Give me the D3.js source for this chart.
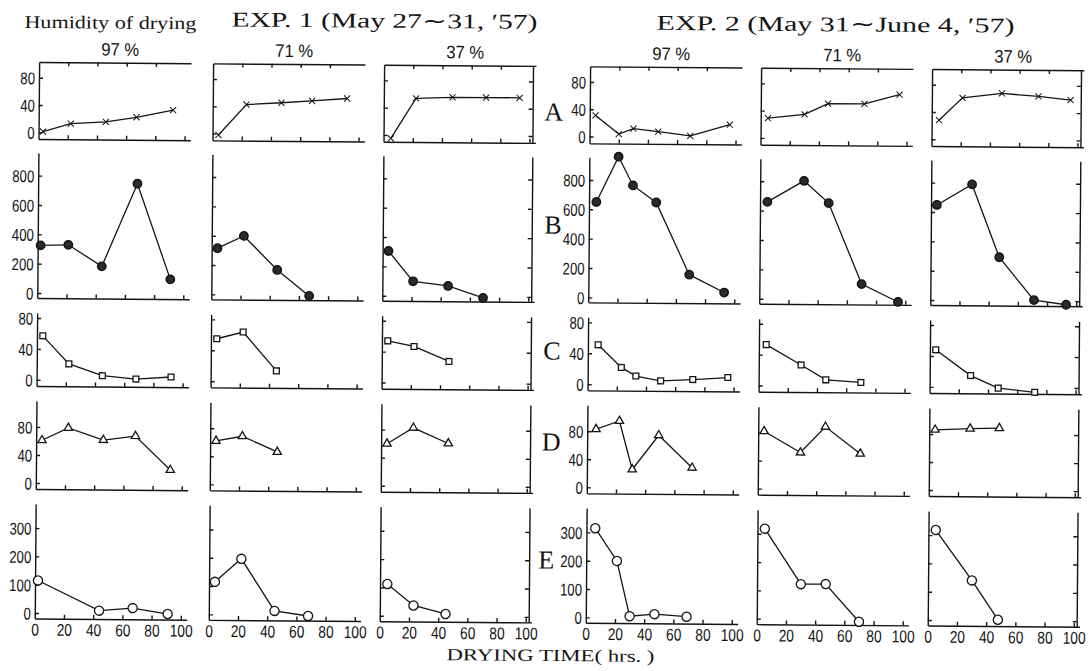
<!DOCTYPE html>
<html>
<head>
<meta charset="utf-8">
<script src="https://cdn.jsdelivr.net/npm/d3@7"></script>
<style>
  body { margin: 0; background: #fff; }
  svg { display: block; }
</style>
</head>
<body>
<script>
// ---- data: [drying hours, value] per humidity (97 %, 71 %, 37 %) ----
const humidity = ['97 %', '71 %', '37 %'];
const rowLetters = ['A', 'B', 'C', 'D', 'E'];
const xTicks = [0, 20, 40, 60, 80, 100];
const yTicks = [[0, 40, 80], [0, 200, 400, 600, 800], [0, 40, 80], [0, 40, 80], [0, 100, 200, 300]];

// EXP. 1
const A_exp1 = [
    [[3, 1], [22, 13], [46, 16], [67, 23], [92, 34]],
    [[4, -2], [23, 43], [47, 46], [68, 49], [92, 53]],
    [[5, -5], [22, 54], [47, 56], [70, 56], [93, 56]]
];
const B_exp1 = [
    [[2, 325], [21, 330], [44, 185], [68, 750], [91, 100]],
    [[4, 315], [22, 400], [45, 170], [67, -5]],
    [[4, 305], [21, 100], [45, 70], [69, -10]]
];
const C_exp1 = [
    [[4, 57], [22, 21], [45, 6], [68, 2], [92, 5]],
    [[4, 55], [22, 64], [45, 14]],
    [[4, 54], [22, 47], [46, 28]]
];
const D_exp1 = [
    [[4, 61], [22, 79], [46, 62], [68, 68], [92, 20]],
    [[4, 62], [22, 69], [46, 47]],
    [[4, 60], [22, 83], [46, 61]]
];
const E_exp1 = [
    [[2, 115], [44, 10], [67, 20], [91, 0]],
    [[4, 115], [22, 197], [45, 14], [68, -3]],
    [[5, 112], [23, 37], [45, 8]]
];

// EXP. 2
const A_exp2 = [
    [[4, 31], [20, 4], [30, 12], [47, 8], [69, 2], [96, 19]],
    [[5, 29], [30, 35], [46, 51], [71, 51], [95, 65]],
    [[5, 28], [21, 61], [48, 68], [73, 64], [95, 59]]
];
const B_exp2 = [
    [[5, 650], [20, 960], [30, 765], [46, 650], [69, 160], [93, 40]],
    [[5, 660], [30, 805], [47, 655], [70, 105], [95, -15]],
    [[4, 648], [28, 790], [47, 295], [71, 5], [93, -25]]
];
const C_exp2 = [
    [[7, 51], [23, 22], [33, 11], [50, 5], [72, 7], [96, 10]],
    [[5, 53], [29, 27], [46, 8], [70, 5]],
    [[4, 48], [28, 15], [47, -1], [72, -6]]
];
const D_exp2 = [
    [[6, 83], [22, 95], [31, 26], [49, 75], [72, 29]],
    [[4, 82], [29, 52], [46, 89], [70, 51]],
    [[4, 86], [28, 88], [48, 89]]
];
const E_exp2 = [
    [[6, 315], [21, 200], [30, 5], [47, 13], [69, 5]],
    [[5, 318], [30, 123], [47, 124], [70, -8]],
    [[5, 318], [30, 141], [48, 3]]
];

// ---- layout ----
const W = 1092, H = 671;
const tilt = 0.45;                       // the scan is slightly rotated
const colX = [37, 211, 382, 588, 759, 930];
const colW = 146;                        // pixels for 0..100 hrs
const rowBox = [
    { top: 66, bottom: 143, domain: [-10, 103] },
    { top: 157, bottom: 302, domain: [-34, 954] },
    { top: 317, bottom: 390, domain: [-8, 86.5] },
    { top: 405, bottom: 493, domain: [-8.6, 117] },
    { top: 508, bottom: 622.5, domain: [-19.4, 385] }
];
const rows = [
    { sets: [A_exp1, A_exp2], marker: 'cross' },
    { sets: [B_exp1, B_exp2], marker: 'dot' },
    { sets: [C_exp1, C_exp2], marker: 'square' },
    { sets: [D_exp1, D_exp2], marker: 'triangle' },
    { sets: [E_exp1, E_exp2], marker: 'circle' }
];

const sansFont = '"Liberation Sans", Arial, sans-serif';
const serifFont = '"Liberation Serif", "Times New Roman", serif';
const ink = '#141414';

const svg = d3.select('body').append('svg').attr('width', W).attr('height', H);
const g = svg.append('g').attr('transform', `rotate(${tilt}, ${W / 2}, ${H / 2})`);

// narrow digits like the printed figure
function squeeze(sel, perChar) {
    sel.attr('textLength', function () { return this.textContent.length * perChar; })
        .attr('lengthAdjust', 'spacingAndGlyphs');
}

function styleAxis(a) {
    a.attr('color', ink);
    a.selectAll('path, line').attr('stroke-width', 1.4);
}

const symbolFor = {
    cross: d3.symbol(d3.symbolTimes || d3.symbolCross, 26),
    square: d3.symbol(d3.symbolSquare, 34),
    triangle: d3.symbol(d3.symbolTriangle, 30),
    circle: d3.symbol(d3.symbolCircle, 66)
};

rows.forEach((row, r) => {
    const box = rowBox[r];
    const y = d3.scaleLinear().domain(box.domain).range([box.bottom, box.top]);

    row.sets.forEach((exp, e) => exp.forEach((series, h) => {
        const c = e * 3 + h;
        const x = d3.scaleLinear().domain([0, 104]).range([colX[c], colX[c] + colW * 1.04]);
        const p = g.append('g').attr('class', 'panel');

        // left axis with inward ticks
        const left = p.append('g')
            .attr('transform', `translate(${x(0)},0)`)
            .call(d3.axisRight(y).tickValues(yTicks[r]).tickSize(4).tickSizeOuter(0).tickFormat(''));
        styleAxis(left);

        // bottom axis with inward ticks
        const bottom = p.append('g')
            .attr('transform', `translate(0,${box.bottom})`)
            .call(d3.axisTop(x).tickValues(xTicks.slice(1)).tickSize(4).tickSizeOuter(0).tickFormat(''));
        styleAxis(bottom);

        // top frame on the first row
        if (r === 0) {
            const top = p.append('g')
                .attr('transform', `translate(0,${box.top})`)
                .call(d3.axisBottom(x).tickValues(xTicks.slice(1, -1)).tickSize(4).tickSizeOuter(0).tickFormat(''));
            styleAxis(top);
        }

        // right frame on the 37 % column
        if (h === 2) {
            const right = p.append('g')
                .attr('transform', `translate(${x(102)},0)`)
                .call(d3.axisLeft(y).tickValues(yTicks[r]).tickSize(4).tickSizeOuter(0).tickFormat(''));
            styleAxis(right);
        }

        // y labels on the first column of each experiment
        if (h === 0) {
            const lab = p.append('g')
                .attr('transform', `translate(${x(0)},0)`)
                .call(d3.axisLeft(y).tickValues(yTicks[r]).tickSize(0).tickPadding(4));
            lab.select('.domain').remove();
            lab.attr('color', ink).attr('font-family', sansFont).attr('font-size', 17);
            lab.selectAll('text').attr('dy', '0.36em').call(squeeze, 7.3);
        }

        // x labels on the last row
        if (r === rows.length - 1) {
            const lab = p.append('g')
                .attr('transform', `translate(0,${box.bottom})`)
                .call(d3.axisBottom(x).tickValues(xTicks).tickSize(0).tickPadding(5));
            lab.select('.domain').remove();
            lab.attr('color', ink).attr('font-family', sansFont).attr('font-size', 17);
            lab.selectAll('text').call(squeeze, 7.6);
        }

        // series line
        p.append('path')
            .datum(series)
            .attr('fill', 'none')
            .attr('stroke', ink)
            .attr('stroke-width', 1.3)
            .attr('d', d3.line().x(d => x(d[0])).y(d => y(d[1])));

        // markers
        const pts = p.selectAll('.pt').data(series).join('g')
            .attr('class', 'pt')
            .attr('transform', d => `translate(${x(d[0])},${y(d[1])})`);
        if (row.marker === 'dot') {
            pts.append('circle').attr('r', 4.2)
                .attr('fill', '#2a2a2a').attr('stroke', ink).attr('stroke-width', 1.4);
        } else {
            pts.append('path').attr('d', symbolFor[row.marker])
                .attr('fill', row.marker === 'cross' ? 'none' : '#fff')
                .attr('stroke', ink)
                .attr('stroke-width', row.marker === 'cross' ? 1 : 1.3);
        }
    }));
});

// humidity headings above each column
g.selectAll('.hum').data(colX).join('text')
    .attr('class', 'hum')
    .attr('x', d => d + colW / 2 + 8)
    .attr('y', 59)
    .attr('text-anchor', 'middle')
    .attr('font-family', sansFont)
    .attr('font-size', 18)
    .attr('fill', ink)
    .text((d, i) => humidity[i % 3])
    .call(squeeze, 9.5);

// row letters between the experiments
const letterY = [112, 225, 351, 442, 560];
g.selectAll('.row-letter').data(rowLetters).join('text')
    .attr('class', 'row-letter')
    .attr('x', (d, i) => i === 4 ? 548 : 552)
    .attr('y', (d, i) => letterY[i] + 8.5)
    .attr('text-anchor', 'middle')
    .attr('font-family', serifFont)
    .attr('font-size', 26)
    .attr('fill', ink)
    .text(d => d);

// titles
g.append('text')
    .attr('x', 22).attr('y', 32)
    .attr('font-family', serifFont).attr('font-size', 18).attr('fill', ink)
    .attr('textLength', 172).attr('lengthAdjust', 'spacingAndGlyphs')
    .text('Humidity of drying');

g.append('text')
    .attr('x', 229).attr('y', 29)
    .attr('font-family', serifFont).attr('font-size', 21).attr('fill', ink)
    .attr('textLength', 306).attr('lengthAdjust', 'spacingAndGlyphs')
    .text('EXP. 1 (May 27∼31, ′57)');

g.append('text')
    .attr('x', 654).attr('y', 29)
    .attr('font-family', serifFont).attr('font-size', 21).attr('fill', ink)
    .attr('textLength', 358).attr('lengthAdjust', 'spacingAndGlyphs')
    .text('EXP. 2 (May 31∼June 4, ′57)');

g.append('text')
    .attr('x', 553).attr('y', 661)
    .attr('text-anchor', 'middle')
    .attr('font-family', serifFont).attr('font-size', 17).attr('fill', ink)
    .attr('textLength', 208).attr('lengthAdjust', 'spacingAndGlyphs')
    .text('DRYING TIME( hrs. )');
</script>
</body>
</html>
